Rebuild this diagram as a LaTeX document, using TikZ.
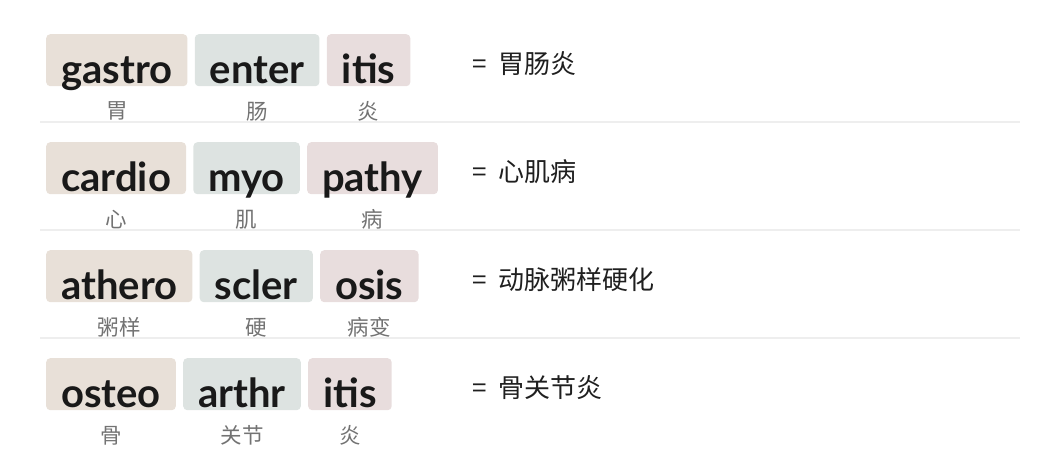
\documentclass[tikz,border=0pt]{standalone}
\usepackage{fontspec}
\setmainfont{Lato}
\newfontfamily\cjk{Noto Sans CJK SC}
\usetikzlibrary{positioning}
\definecolor{prefixbg}{RGB}{232,224,216}
\definecolor{rootbg}{RGB}{221,227,225}
\definecolor{suffixbg}{RGB}{232,221,221}
\definecolor{glossgray}{RGB}{115,115,115}
\definecolor{rulegray}{RGB}{238,238,238}
\newcommand{\eq}{=\hspace{0.45em}}
\tikzset{
  part/.style={rounded corners=4pt, inner xsep=15pt, inner ysep=3pt,
    text height=46pt, text depth=0pt, text=black!90,
    font=\bfseries\fontsize{40}{40}\selectfont},
  gloss/.style={font=\cjk\fontsize{21.5}{21.5}\selectfont, text=glossgray, inner sep=0pt},
  meaning/.style={font=\cjk\fontsize{26}{26}\selectfont, text=black!88, anchor=west, inner sep=0pt},
  sep/.style={rulegray, line width=1.5pt}
}
\begin{document}
\begin{tikzpicture}[x=1pt, y=-1pt]
\useasboundingbox (0,0) rectangle (1060,470);

% gastro-enter-itis
\node[part, fill=prefixbg, anchor=north west] (gastro) at (46,34) {gastro};
\node[part, fill=rootbg, right=7pt of gastro] (enter) {enter};
\node[part, fill=suffixbg, right=7pt of enter] (itisA) {itis};
\node[gloss] (gastroL) at ([yshift=-25pt]gastro.south) {胃};
\node[gloss] (enterL) at ([yshift=-25pt]enter.south) {肠};
\node[gloss] (itisAL) at ([yshift=-25pt]itisA.south) {炎};
\node[meaning] (mA) at (472,64) {\eq 胃肠炎};
\draw[sep] (40,122) -- (1020,122);

% cardio-myo-pathy
\node[part, fill=prefixbg, anchor=north west] (cardio) at (46,142) {cardio};
\node[part, fill=rootbg, right=7pt of cardio] (myo) {myo};
\node[part, fill=suffixbg, right=7pt of myo] (pathy) {pathy};
\node[gloss] (cardioL) at ([yshift=-25pt]cardio.south) {心};
\node[gloss] (myoL) at ([yshift=-25pt]myo.south) {肌};
\node[gloss] (pathyL) at ([yshift=-25pt]pathy.south) {病};
\node[meaning] (mB) at (472,172) {\eq 心肌病};
\draw[sep] (40,230) -- (1020,230);

% athero-scler-osis
\node[part, fill=prefixbg, anchor=north west] (athero) at (46,250) {athero};
\node[part, fill=rootbg, right=7pt of athero] (scler) {scler};
\node[part, fill=suffixbg, right=7pt of scler] (osis) {osis};
\node[gloss] (atheroL) at ([yshift=-25pt]athero.south) {粥样};
\node[gloss] (sclerL) at ([yshift=-25pt]scler.south) {硬};
\node[gloss] (osisL) at ([yshift=-25pt]osis.south) {病变};
\node[meaning] (mC) at (472,280) {\eq 动脉粥样硬化};
\draw[sep] (40,338) -- (1020,338);

% osteo-arthr-itis
\node[part, fill=prefixbg, anchor=north west] (osteo) at (46,358) {osteo};
\node[part, fill=rootbg, right=7pt of osteo] (arthr) {arthr};
\node[part, fill=suffixbg, right=7pt of arthr] (itisB) {itis};
\node[gloss] (osteoL) at ([yshift=-25pt]osteo.south) {骨};
\node[gloss] (arthrL) at ([yshift=-25pt]arthr.south) {关节};
\node[gloss] (itisBL) at ([yshift=-25pt]itisB.south) {炎};
\node[meaning] (mD) at (472,388) {\eq 骨关节炎};
\end{tikzpicture}
\end{document}
